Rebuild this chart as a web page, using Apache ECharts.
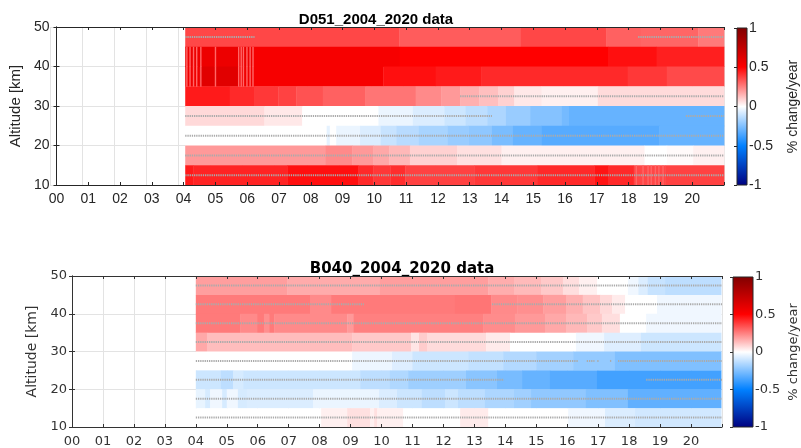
<!DOCTYPE html>
<html><head><meta charset="utf-8">
<script src="https://cdn.jsdelivr.net/npm/echarts@6/dist/echarts.min.js"></script>
<style>html,body{margin:0;padding:0;background:#fff}#c{width:801px;height:448px}</style>
</head><body><div id="c"></div>
<script>
// ---------- tick labels ----------
const yearLabels = ['00','01','02','03','04','05','06','07','08','09','10','11','12','13','14','15','16','17','18','19','20'];
const altTicks = [10, 20, 30, 40, 50];
const cbarTicks = [-1, -0.5, 0, 0.5, 1];
// colormap from -1 to 1
const colormap = ['#000080', '#0080ff', '#ffffff', '#ff0000', '#800000'];

const bandHeight = 5;       // km per altitude band
const xMax = 21;            // end of the time axis / data (years since 2000)

// ---------- D051 (top): each band = [start year, % change/year] segments ----------
const d051_b45 = [[4.05,0.36],[10.78,0.32],[14.61,0.36],[17.29,0.31],[18.38,0.30],[20.19,0.26]];
const d051_b40 = [[4.05,0.57],[6.19,0.53],[10.8,0.5],[17.35,0.47],[18.88,0.44]];
const d051_b35 = [[4.05,0.56],[4.5,0.62],[5.7,0.56],[6.2,0.53],[10.28,0.47],[11.93,0.45],[13.37,0.42],[17.97,0.39],[19.2,0.355]];
const d051_b30 = [[4.05,0.45],[5.45,0.42],[6.23,0.39],[6.98,0.37],[7.54,0.34],[8.38,0.31],[9.72,0.27],[11.3,0.23],[12.1,0.2],[12.7,0.155],[13.3,0.125],[13.9,0.09],[14.4,0.045],[15.26,0.03],[17.03,0.07]];
const d051_b25 = [[4.05,0.075],[6.54,0.045],[7.73,0],[10.13,-0.04],[11.21,-0.07],[12.2,-0.1],[12.87,-0.13],[13.55,-0.16],[14.14,-0.2],[14.9,-0.24],[15.9,-0.27],[16.1,-0.3]];
const d051_b20 = [[4.05,0],[8.5,-0.05],[8.6,0],[8.8,-0.04],[9.55,-0.07],[10.2,-0.11],[10.7,-0.14],[11.4,-0.17],[12.3,-0.2],[12.96,-0.22],[13.7,-0.26],[14.36,-0.3],[15.26,-0.33],[18.97,-0.3]];
const d051_b15 = [[4.05,0.2],[8.47,0.23],[9.3,0.2],[9.97,0.17],[10.47,0.14],[11.12,0.09],[12.6,0.06],[14.0,0.03],[18.5,0],[19.2,0.01],[20.03,0.03]];
const d051_b10 = [[4.05,0.45],[4.3,0.43],[7.26,0.47],[9.5,0.42],[9.97,0.39],[10.5,0.41],[10.97,0.37],[13.15,0.39],[15.14,0.42],[16.92,0.46],[17.35,0.42],[18.16,0.36],[19.16,0.37]];
// thin lighter stripes (start years) across the given bands
const d051_stripeYears = [4.08,4.18,4.29,4.39,4.52,4.98,5.71,5.79,5.86,5.97,6.07,6.16];
const d051_stripeYears10 = [18.22,18.43,18.59,18.69,18.82,18.93,19.06];
const stripeWidth = 0.03;
const d051_stripeValue = 0.3;
// significance markers: [from, to] at each band centre
const d051_dots47 = [[4.05,6.23],[18.3,21]];
const d051_dots32 = [[12.7,21]];
const d051_dots27 = [[4.05,13.7],[19.8,21]];
const d051_dots22 = [[4.05,21]];
const d051_dots17 = [[4.05,21]];
const d051_dots12 = [[4.05,21]];

// ---------- B040 (bottom) ----------
const b040_b45 = [[4.0,0.19],[6.95,0.165],[9.95,0.19],[13.45,0.16],[14.28,0.135],[15.15,0.105],[15.86,0.065],[16.38,0.03],[16.96,0],[17.96,-0.03],[18.3,-0.07],[18.6,-0.11],[19.16,-0.13]];
const b040_b40 = [[4.0,0.26],[7.69,0.23],[8.37,0.26],[12.37,0.27],[13.54,0.23],[14.38,0.22],[15.22,0.19],[15.96,0.155],[16.5,0.115],[17.06,0.075],[17.45,0.04],[17.87,0],[18.9,-0.03]];
const b040_b35 = [[4.0,0.26],[5.43,0.23],[5.98,0.26],[6.2,0.22],[6.37,0.26],[6.53,0.23],[8.89,0.2],[9.1,0.25],[13.28,0.225],[14.31,0.2],[15.28,0.17],[15.96,0.14],[16.64,0.105],[17.12,0.065],[17.7,0],[18.55,-0.03]];
const b040_b30 = [[4.0,0.17],[4.36,0.13],[9.05,0.105],[10.95,0.05],[11.21,0.1],[11.47,0.07],[13.38,0.04],[14.15,0],[16.28,-0.03],[17.19,-0.065],[18.38,-0.1]];
const b040_b25 = [[4.0,0],[9.05,-0.035],[10.34,-0.065],[11.0,-0.1],[12.8,-0.12],[13.93,-0.15],[15.0,-0.18],[16.19,-0.21],[17.54,-0.25]];
const b040_b20 = [[4.0,-0.1],[4.81,-0.13],[5.2,-0.08],[5.53,-0.1],[9.31,-0.13],[10.27,-0.155],[10.86,-0.19],[12.73,-0.23],[13.73,-0.265],[14.54,-0.3],[15.44,-0.33],[16.96,-0.37]];
const b040_b15 = [[4.0,-0.045],[4.3,-0.08],[4.46,-0.03],[4.85,-0.08],[5.0,-0.03],[5.36,-0.08],[5.65,-0.07],[7.79,-0.04],[9.92,-0.07],[10.5,-0.1],[11.3,-0.13],[12.05,-0.1],[12.47,-0.13],[13.34,-0.16],[14.28,-0.185],[14.83,-0.215],[16.6,-0.25],[17.96,-0.31]];
const b040_b10 = [[4.0,0],[8.05,0.03],[8.89,0.06],[9.63,0.03],[9.76,0.06],[9.86,0.03],[10.7,0],[12.54,0.04],[13.45,0],[16.03,-0.03],[17.22,-0.07],[18.19,-0.09]];
const b040_dots47 = [[4.0,21]];
const b040_dots42 = [[4.0,9.43],[13.57,21]];
const b040_dots37 = [[4.0,21]];
const b040_dots32 = [[4.0,21]];
const b040_dots27 = [[4.0,16.35],[16.63,16.88],[16.97,17.03],[17.38,17.45],[17.64,21]];
const b040_dots22 = [[4.0,13.96],[18.55,21]];
const b040_dots17 = [[4.0,21]];
const b040_dots12 = [[4.0,21]];

// ---------- build series data ----------
function buildCells(bands, end) {
  const out = [];
  bands.forEach(([bottom, segs]) => {
    segs.forEach((s, i) => {
      const x1 = i + 1 < segs.length ? segs[i + 1][0] : end;
      out.push([s[0], x1, bottom, bottom + bandHeight, s[1]]);
    });
  });
  return out;
}
function buildStripes(years, bottoms, value) {
  const out = [];
  bottoms.forEach(b => years.forEach(y => out.push([y, y + stripeWidth, b, b + bandHeight, value])));
  return out;
}
function buildDots(list) {
  const out = [];
  list.forEach(([alt, segs]) => segs.forEach(s => out.push([s[0], s[1], alt])));
  return out;
}

const topCells = buildCells([[45,d051_b45],[40,d051_b40],[35,d051_b35],[30,d051_b30],[25,d051_b25],[20,d051_b20],[15,d051_b15],[10,d051_b10]], xMax)
  .concat(buildStripes(d051_stripeYears, [35, 40], d051_stripeValue))
  .concat(buildStripes(d051_stripeYears10, [10], d051_stripeValue));
const topDots = buildDots([[47.5,d051_dots47],[32.5,d051_dots32],[27.5,d051_dots27],[22.5,d051_dots22],[17.5,d051_dots17],[12.5,d051_dots12]]);
const botCells = buildCells([[45,b040_b45],[40,b040_b40],[35,b040_b35],[30,b040_b30],[25,b040_b25],[20,b040_b20],[15,b040_b15],[10,b040_b10]], 20.97);
const botDots = buildDots([[47.5,b040_dots47],[42.5,b040_dots42],[37.5,b040_dots37],[32.5,b040_dots32],[27.5,b040_dots27],[22.5,b040_dots22],[17.5,b040_dots17],[12.5,b040_dots12]]);

// ---------- render helpers ----------
function renderCell(params, api) {
  const a = api.coord([api.value(0), api.value(3)]);
  const b = api.coord([api.value(1), api.value(2)]);
  return { type: 'rect', shape: { x: a[0], y: a[1], width: Math.max(b[0] - a[0], 1) + 0.4, height: b[1] - a[1] + 0.4 },
           style: { fill: api.visual('color') } };
}
function renderDots(params, api) {
  const a = api.coord([api.value(0), api.value(2)]);
  const b = api.coord([api.value(1), api.value(2)]);
  return { type: 'line', shape: { x1: a[0], y1: a[1], x2: b[0], y2: b[1] },
           style: { stroke: '#ababab', lineWidth: 2, lineDash: [1.3, 0.9], fill: null } };
}
function renderBar(params, api) {
  const a = api.coord([0, cbarTicks[cbarTicks.length - 1]]);
  const b = api.coord([1, cbarTicks[0]]);
  const stops = colormap.map((c, i) => ({ offset: i / (colormap.length - 1), color: colormap[colormap.length - 1 - i] }));
  return { type: 'rect', shape: { x: a[0], y: a[1], width: b[0] - a[0], height: b[1] - a[1] },
           style: { fill: new echarts.graphic.LinearGradient(0, 0, 0, 1, stops), stroke: '#262626', lineWidth: 1 } };
}

// ---------- layout per panel ----------
const panels = [
  { grid: { left: 50, top: 27, width: 674, height: 158 }, cbar: { left: 737, top: 28, width: 22, height: 157 },
    font: 'Liberation Sans', color: '#262626', fs: 14, nameFs: 15, ylm: 7, xlm: 7, nameGap: 27, cbarGap: 39, cells: topCells, dots: topDots },
  { grid: { left: 72, top: 276, width: 650, height: 151 }, cbar: { left: 733, top: 277, width: 24, height: 150 },
    font: 'DejaVu Sans', color: '#333333', fs: 13, nameFs: 14, ylm: 5, xlm: 8, nameGap: 22, cbarGap: 34, cells: botCells, dots: botDots }
];

const grid = [], xAxis = [], yAxis = [], series = [], heatIdx = [];
panels.forEach((p, k) => {
  const g0 = grid.length;
  grid.push(Object.assign({}, p.grid), Object.assign({}, p.grid), Object.assign({}, p.cbar));
  const tx = { fontFamily: p.font, fontSize: p.fs, color: p.color };
  const line = { show: true, lineStyle: { color: p.color, width: 1 } };
  const tick = { show: true, inside: true, length: 3, lineStyle: { color: p.color } };
  const xb = xAxis.length;
  xAxis.push(
    { gridIndex: g0, type: 'value', min: 0, max: xMax, interval: 1, axisLine: { show: false }, axisTick: { show: false }, axisLabel: { show: false },
      splitLine: { show: true, lineStyle: { color: '#e3e3e3', width: 1 } }, z: 0 },
    { gridIndex: g0 + 1, type: 'value', position: 'bottom', min: 0, max: xMax, interval: 1, axisLine: line, axisTick: tick,
      axisLabel: Object.assign({ margin: p.xlm, formatter: v => (v <= 20 && yearLabels[Math.round(v)] !== undefined) ? yearLabels[Math.round(v)] : '' }, tx),
      splitLine: { show: false }, z: 10 },
    { gridIndex: g0 + 1, type: 'value', position: 'top', min: 0, max: xMax, interval: 1, axisLine: line, axisTick: tick, axisLabel: { show: false }, splitLine: { show: false }, z: 10 },
    { gridIndex: g0 + 2, type: 'value', min: 0, max: 1, show: false }
  );
  const yb = yAxis.length;
  yAxis.push(
    { gridIndex: g0, type: 'value', min: altTicks[0], max: altTicks[altTicks.length - 1], interval: 10, axisLine: { show: false }, axisTick: { show: false },
      axisLabel: { show: false }, splitLine: { show: true, lineStyle: { color: '#e3e3e3', width: 1 } }, z: 0 },
    { gridIndex: g0 + 1, type: 'value', position: 'left', min: altTicks[0], max: altTicks[altTicks.length - 1], interval: 10,
      name: 'Altitude [km]', nameLocation: 'middle', nameGap: p.nameGap, nameTextStyle: { fontFamily: p.font, fontSize: p.nameFs, color: p.color },
      axisLine: line, axisTick: tick, axisLabel: Object.assign({ margin: p.ylm }, tx), splitLine: { show: false }, z: 10 },
    { gridIndex: g0 + 1, type: 'value', position: 'right', min: altTicks[0], max: altTicks[altTicks.length - 1], interval: 10,
      axisLine: line, axisTick: tick, axisLabel: { show: false }, splitLine: { show: false }, z: 10 },
    { gridIndex: g0 + 2, type: 'value', position: 'right', min: cbarTicks[0], max: cbarTicks[cbarTicks.length - 1], interval: 0.5,
      name: '% change/year', nameLocation: 'middle', nameRotate: 90, nameGap: p.cbarGap,
      nameTextStyle: { fontFamily: p.font, fontSize: p.nameFs - 1, color: p.color },
      axisLine: { show: false }, axisTick: { show: true, inside: true, length: 3, lineStyle: { color: p.color } },
      axisLabel: Object.assign({ margin: 2, formatter: v => String(v) }, tx), splitLine: { show: false }, z: 10 }
  );
  heatIdx.push(series.length);
  series.push(
    { type: 'custom', xAxisIndex: xb + 1, yAxisIndex: yb + 1, renderItem: renderCell, data: p.cells, encode: { x: [0, 1], y: [2, 3] }, clip: true, z: 2, silent: true },
    { type: 'custom', xAxisIndex: xb + 1, yAxisIndex: yb + 1, renderItem: renderDots, data: p.dots, encode: { x: [0, 1], y: 2 }, clip: true, z: 3, silent: true },
    { type: 'custom', xAxisIndex: xb + 3, yAxisIndex: yb + 3, renderItem: renderBar, data: [[0, 1]], z: 2, silent: true }
  );
});

const chart = echarts.init(document.getElementById('c'), null, { renderer: 'canvas' });
chart.setOption({
  animation: false,
  backgroundColor: '#ffffff',
  title: [
    { text: 'D051_2004_2020 data', left: 371, top: 7, textAlign: 'center',
      textStyle: { fontFamily: 'Liberation Sans', fontSize: 15, fontWeight: 'bold', color: '#000' } },
    { text: 'B040_2004_2020 data', left: 397, top: 257, textAlign: 'center',
      textStyle: { fontFamily: 'DejaVu Sans', fontSize: 15, fontWeight: 'bold', color: '#000' } }
  ],
  visualMap: { type: 'continuous', show: false, min: cbarTicks[0], max: cbarTicks[cbarTicks.length - 1], dimension: 4,
               seriesIndex: heatIdx, inRange: { color: colormap } },
  grid, xAxis, yAxis, series
});
</script></body></html>
